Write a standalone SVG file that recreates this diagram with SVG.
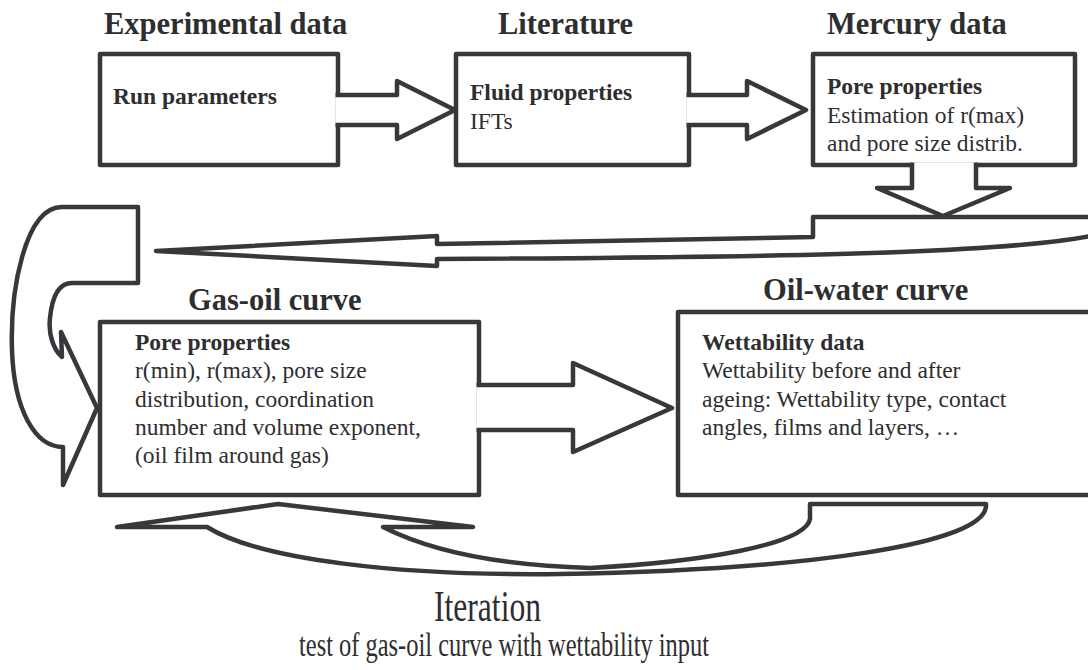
<svg xmlns="http://www.w3.org/2000/svg" width="1088" height="670" viewBox="0 0 1088 670">
<style>
.box{fill:#fff;stroke:#38383c;stroke-width:4.5;stroke-linejoin:round}
.arr{fill:#fff;stroke:#38383c;stroke-width:4.5;stroke-linejoin:round;stroke-linecap:round}
.att{fill:#fff;stroke:#38383c;stroke-width:4.5;stroke-linejoin:round;stroke-linecap:butt}
.h{font-family:"Liberation Serif","Times New Roman",serif;font-weight:bold;font-size:30.5px;fill:#2e2e30}
.b{font-family:"Liberation Serif","Times New Roman",serif;font-weight:bold;font-size:23.5px;fill:#2e2e30}
.t{font-family:"Liberation Serif","Times New Roman",serif;font-size:23.5px;fill:#2e2e30}
.it{font-family:"Liberation Serif","Times New Roman",serif;fill:#2e2e30}
</style>
<rect width="1088" height="670" fill="#fff"/>
<g id="exp">
<text class="h" x="104" y="34">Experimental data</text>
<rect class="box" x="100" y="54" width="238" height="111"/>
<text class="b" x="113" y="104">Run parameters</text>
</g>
<g id="lit">
<text class="h" x="498" y="34">Literature</text>
<rect class="box" x="456" y="54" width="233" height="111"/>
<text class="b" x="470" y="100">Fluid properties</text>
<text class="t" x="470" y="129">IFTs</text>
</g>
<g id="merc">
<text class="h" x="827" y="34">Mercury data</text>
<rect class="box" x="813" y="54" width="262" height="111"/>
<text class="b" x="827" y="94">Pore properties</text>
<text class="t" x="827" y="123">Estimation of r(max)</text>
<text class="t" x="827" y="151">and pore size distrib.</text>
</g>
<g id="gasoil">
<text class="h" x="188" y="310">Gas-oil curve</text>
<rect class="box" x="100" y="322" width="379" height="173"/>
<text class="b" x="135" y="350">Pore properties</text>
<text class="t" x="135" y="378">r(min), r(max), pore size</text>
<text class="t" x="135" y="407">distribution, coordination</text>
<text class="t" x="135" y="435">number and volume exponent,</text>
<text class="t" x="135" y="463">(oil film around gas)</text>
</g>
<g id="oilwater">
<text class="h" x="763" y="300">Oil-water curve</text>
<rect class="box" x="678" y="312" width="430" height="183"/>
<text class="b" x="702" y="350">Wettability data</text>
<text class="t" x="702" y="378">Wettability before and after</text>
<text class="t" x="702" y="407">ageing: Wettability type, contact</text>
<text class="t" x="702" y="435">angles, films and layers, …</text>
</g>
<g id="connectors">
<path class="att" d="M335.5,95 L397,95 L397,81 L455,110 L397,139 L397,125 L335.5,125"/>
<path class="att" d="M686.5,95 L747,95 L747,81 L806,110 L747,139 L747,125 L686.5,125"/>
<path class="att" d="M912,162.5 L912,188 L877,188 L943,216 L1010,188 L976,188 L976,162.5"/>
<path class="att" d="M476.5,385 L573,385 L573,363 L672,408 L573,452 L573,430 L476.5,430"/>
<path class="arr" d="M1100,217 L813,217 L813,237 L437,244 L437,236 L156,251 L437,266 L437,259 C650,258 800,256 900,252 C1000,248 1060,243 1100,234"/>
<path class="arr" d="M138,207 L62,207 C25,207 10,290 12,350 C14,410 35,447 63,447 L63,485 L97,408 L61,332 L62,357 C54,350 48,335 50,318 C52,298 58,283 72,283 L138,283 Z"/>
<path class="arr" d="M810,504 L986,504 C990,545 800,570 560,574 C400,576 260,560 207,527 L117,527 L278,504 L473,527 L383,527 C440,556 520,566 590,568 C700,562 805,545 810,519 Z"/>
</g>
<g id="iteration">
<text class="it" x="434" y="621" font-size="44" textLength="107" lengthAdjust="spacingAndGlyphs">Iteration</text>
<text class="it" x="299" y="656" font-size="33" textLength="410" lengthAdjust="spacingAndGlyphs">test of gas-oil curve with wettability input</text>
</g>
</svg>
